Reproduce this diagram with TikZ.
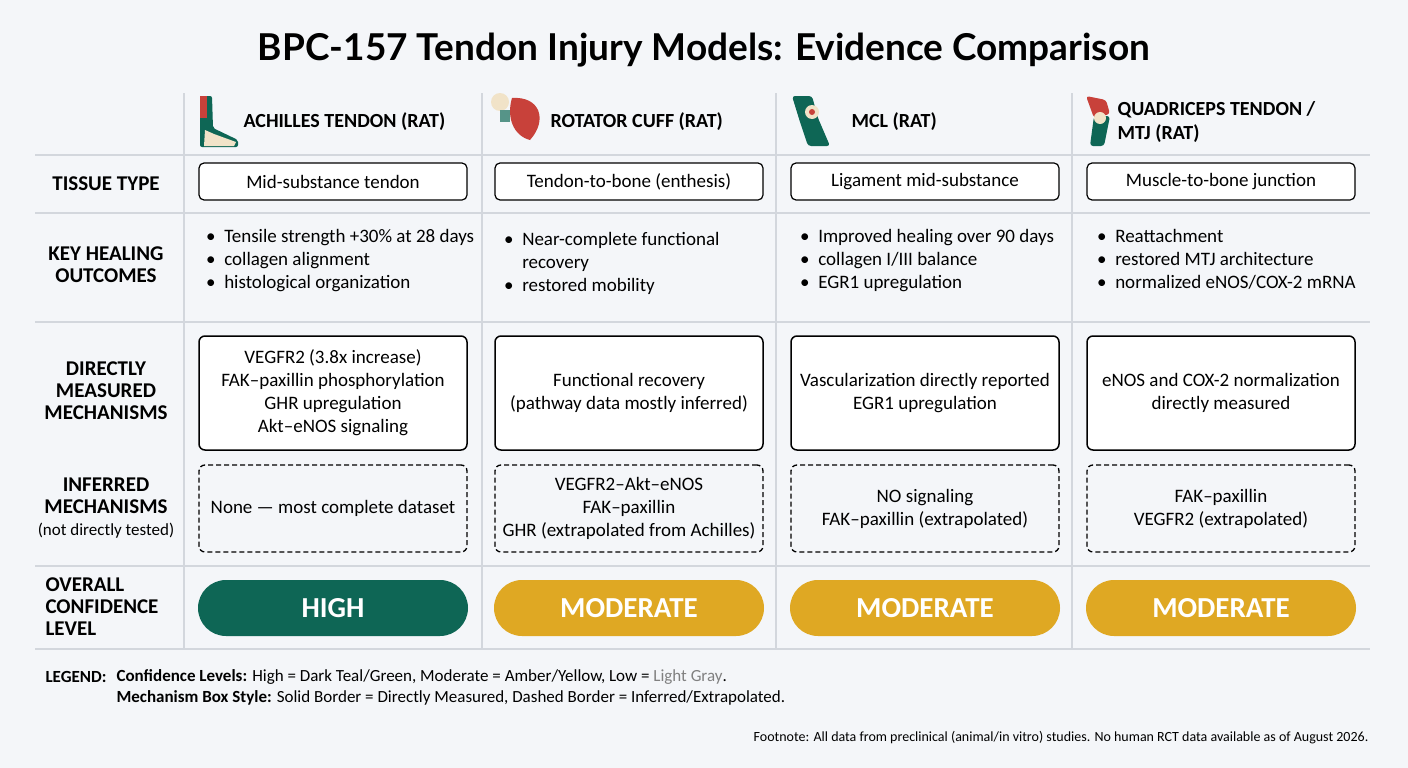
\documentclass[tikz,border=0pt]{standalone}
\usepackage{fontspec}
\setmainfont{Carlito}
\newfontfamily\titlefont{Lato}
\usetikzlibrary{positioning}

\definecolor{bgcol}{HTML}{F4F6F9}
\definecolor{gridcol}{HTML}{D3D7DD}
\definecolor{tealcol}{HTML}{0E6655}
\definecolor{ambercol}{HTML}{DFA823}
\definecolor{bonecol}{HTML}{F1E3C8}
\definecolor{musclecol}{HTML}{C8413A}

\tikzstyle{gridLine} = [draw=gridcol, line width=1.2pt]
\tikzstyle{rowLabel} = [font=\fontsize{21}{22}\selectfont\bfseries, align=center, text=black]
\tikzstyle{colHead} = [font=\fontsize{20}{24}\selectfont\bfseries, align=left, anchor=west]
\tikzstyle{tissueBox} = [rectangle, rounded corners=5pt, draw=black, line width=1.2pt, fill=white, minimum width=268pt, minimum height=37pt, font=\fontsize{19}{22}\selectfont]
\tikzstyle{directBox} = [rectangle, rounded corners=6pt, draw=black, line width=1.5pt, fill=white, minimum width=268pt, minimum height=114pt, align=center, font=\fontsize{19}{23}\selectfont]
\tikzstyle{inferBox} = [rectangle, rounded corners=6pt, draw=black, line width=1.3pt, dashed, dash pattern=on 5pt off 3pt, minimum width=268pt, minimum height=87pt, align=center, font=\fontsize{19}{23}\selectfont]
\tikzstyle{pill} = [rectangle, rounded corners=28pt, minimum width=270pt, minimum height=56pt, text=white, font=\fontsize{29}{30}\selectfont\bfseries]
\tikzstyle{bullets} = [anchor=north west, align=left, font=\fontsize{19}{23}\selectfont, inner sep=0pt]

\begin{document}
\begin{tikzpicture}[x=1pt, y=-1pt]
  \fill[bgcol] (0,0) rectangle (1408,768);
  \useasboundingbox (0,0) rectangle (1408,768);

  \node (title) at (704,50) {\titlefont\fontsize{37}{40}\selectfont\bfseries BPC-157 Tendon Injury Models: Evidence Comparison};

  % grid
  \foreach \y in {155,213,322,566,649}
    \draw[gridLine] (35,\y) -- (1370,\y);
  \foreach \x in {184,482,776,1072}
    \draw[gridLine] (\x,93) -- (\x,649);

  % icons
  \fill[tealcol, rounded corners=2pt] (200,96) -- (212,96) -- (213,128) -- (238,140) -- (238,147) -- (200,147) -- cycle;
  \fill[musclecol] (200,96) rectangle (207,118);
  \fill[bonecol] (205,130) -- (214,134) -- (236,142) -- (234,146) -- (204,146) -- cycle;
  \fill[bonecol] (500,102) circle (9pt);
  \fill[musclecol] (512,98) .. controls (540,96) and (548,120) .. (530,140) .. controls (514,136) and (506,118) .. (512,98);
  \fill[tealcol!70!white] (500,110) rectangle (510,122);
  \fill[tealcol, rounded corners=3pt] (792,96) -- (812,96) -- (818,118) -- (830,146) -- (808,146) -- (800,122) -- cycle;
  \fill[bonecol] (812,112) circle (7pt);
  \fill[musclecol] (812,112) circle (3pt);
  \fill[musclecol, rounded corners=3pt] (1086,96) -- (1106,100) -- (1110,114) -- (1094,118) -- cycle;
  \fill[tealcol, rounded corners=3pt] (1094,116) -- (1110,116) -- (1104,146) -- (1090,146) -- cycle;
  \fill[bonecol] (1100,118) circle (6pt);

  % column headers
  \node (h_achilles)[colHead] at (240,122) {ACHILLES TENDON (RAT)};
  \node (h_rotator)[colHead] at (547,122) {ROTATOR CUFF (RAT)};
  \node (h_mcl)[colHead] at (848,122) {MCL (RAT)};
  \node (h_quad)[colHead] at (1114,122) {QUADRICEPS TENDON /\\MTJ (RAT)};

  % row labels
  \node (r_tissue)[rowLabel] at (106,184) {TISSUE TYPE};
  \node (r_key)[rowLabel] at (106,265) {KEY HEALING\\OUTCOMES};
  \node (r_direct)[rowLabel] at (106,391) {DIRECTLY\\MEASURED\\MECHANISMS};
  \node (r_infer)[rowLabel, align=center] at (106,508) {INFERRED\\MECHANISMS\\{\fontsize{17}{20}\selectfont\mdseries (not directly tested)}};
  \node (r_overall)[rowLabel, align=left, anchor=west] at (42,607) {OVERALL\\CONFIDENCE\\LEVEL};

  % tissue type
  \node (t1)[tissueBox] at (333,181.5) {Mid-substance tendon};
  \node (t2)[tissueBox] at (629,181.5) {Tendon-to-bone (enthesis)};
  \node (t3)[tissueBox] at (925,181.5) {Ligament mid-substance};
  \node (t4)[tissueBox] at (1221,181.5) {Muscle-to-bone junction};

  % key healing outcomes
  \node (k1)[bullets] at (206,229) {\textbullet\ \ Tensile strength +30\% at 28 days\\\textbullet\ \ collagen alignment\\\textbullet\ \ histological organization};
  \node (k2)[bullets] at (504,229) {\begin{tabular}{@{}l@{\ \ }l@{}}\textbullet & Near-complete functional\\ & recovery\\\textbullet & restored mobility\end{tabular}};
  \node (k3)[bullets] at (800,229) {\textbullet\ \ Improved healing over 90 days\\\textbullet\ \ collagen I/III balance\\\textbullet\ \ EGR1 upregulation};
  \node (k4)[bullets] at (1097,229) {\textbullet\ \ Reattachment\\\textbullet\ \ restored MTJ architecture\\\textbullet\ \ normalized eNOS/COX-2 mRNA};

  % directly measured
  \node (d1)[directBox] at (333,393) {VEGFR2 (3.8x increase)\\FAK\textendash paxillin phosphorylation\\GHR upregulation\\Akt\textendash eNOS signaling};
  \node (d2)[directBox] at (629,393) {Functional recovery\\(pathway data mostly inferred)};
  \node (d3)[directBox] at (925,393) {Vascularization directly reported\\EGR1 upregulation};
  \node (d4)[directBox] at (1221,393) {eNOS and COX-2 normalization\\directly measured};

  % inferred
  \node (i1)[inferBox] at (333,508.5) {None \textemdash\ most complete dataset};
  \node (i2)[inferBox] at (629,508.5) {VEGFR2\textendash Akt\textendash eNOS\\FAK\textendash paxillin\\GHR (extrapolated from Achilles)};
  \node (i3)[inferBox] at (925,508.5) {NO signaling\\FAK\textendash paxillin (extrapolated)};
  \node (i4)[inferBox] at (1221,508.5) {FAK\textendash paxillin\\VEGFR2 (extrapolated)};

  % confidence
  \node (c1)[pill, fill=tealcol] at (333,608) {HIGH};
  \node (c2)[pill, fill=ambercol] at (629,608) {MODERATE};
  \node (c3)[pill, fill=ambercol] at (925,608) {MODERATE};
  \node (c4)[pill, fill=ambercol] at (1221,608) {MODERATE};

  % legend
  \node (legend)[anchor=west, font=\fontsize{17}{20}\selectfont\bfseries] at (42,677) {LEGEND:};
  \node (leg1)[anchor=west, font=\fontsize{17}{20}\selectfont] at (113,677) {\textbf{Confidence Levels:} High = Dark Teal/Green, Moderate = Amber/Yellow, Low = \textcolor{gray}{Light Gray}.};
  \node (leg2)[anchor=west, font=\fontsize{17}{20}\selectfont] at (113,698) {\textbf{Mechanism Box Style:} Solid Border = Directly Measured, Dashed Border = Inferred/Extrapolated.};
  \node (foot)[anchor=east, font=\fontsize{14}{16}\selectfont] at (1372,738) {Footnote: All data from preclinical (animal/in vitro) studies. No human RCT data available as of August 2026.};
\end{tikzpicture}
\end{document}
